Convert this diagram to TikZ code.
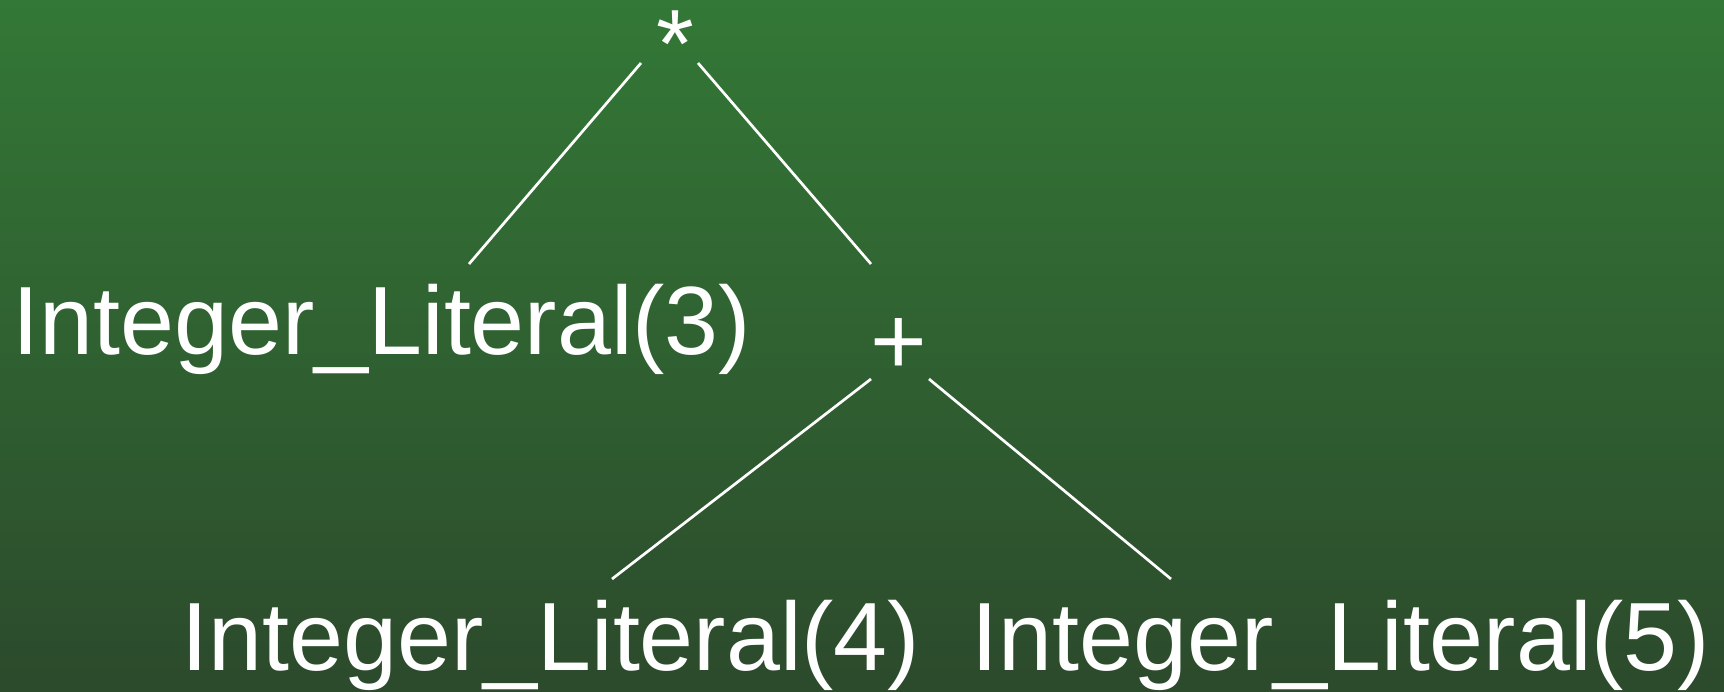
\documentclass[tikz,border=0pt]{standalone}
\usepackage{fontspec}
\setmainfont{Liberation Sans}
\definecolor{bgtop}{RGB}{51,120,54}
\definecolor{bgbottom}{RGB}{44,74,44}

\begin{document}
\begin{tikzpicture}[x=1pt, y=-1pt,
	ast/.style={text=white, inner sep=0pt, anchor=base, font=\fontsize{97}{116}\selectfont},
	edge/.style={white, line width=2.7pt}]

	\shade[top color=bgtop, bottom color=bgbottom] (0,0) rectangle (1724,691);
	\path[use as bounding box] (0,0) rectangle (1724,691);

	\node[ast] (mul) at (675,77) {*};
	\node[ast] (lit3) at (382,354) {Integer\_Literal(3)};
	\node[ast] (add) at (899,374) {+};
	\node[ast] (lit4) at (551,670) {Integer\_Literal(4)};
	\node[ast] (lit5) at (1341,670) {Integer\_Literal(5)};

	% line ends, the lines stop short of the text
	\coordinate (mul-l) at (641,63);
	\coordinate (mul-r) at (698,63);
	\coordinate (lit3-t) at (469,264);
	\coordinate (add-t) at (871,264);
	\coordinate (add-l) at (871,379);
	\coordinate (add-r) at (929,379);
	\coordinate (lit4-t) at (612,579);
	\coordinate (lit5-t) at (1171,579);

	\draw[edge] (mul-l) -- (lit3-t);
	\draw[edge] (mul-r) -- (add-t);
	\draw[edge] (add-l) -- (lit4-t);
	\draw[edge] (add-r) -- (lit5-t);

\end{tikzpicture}
\end{document}
